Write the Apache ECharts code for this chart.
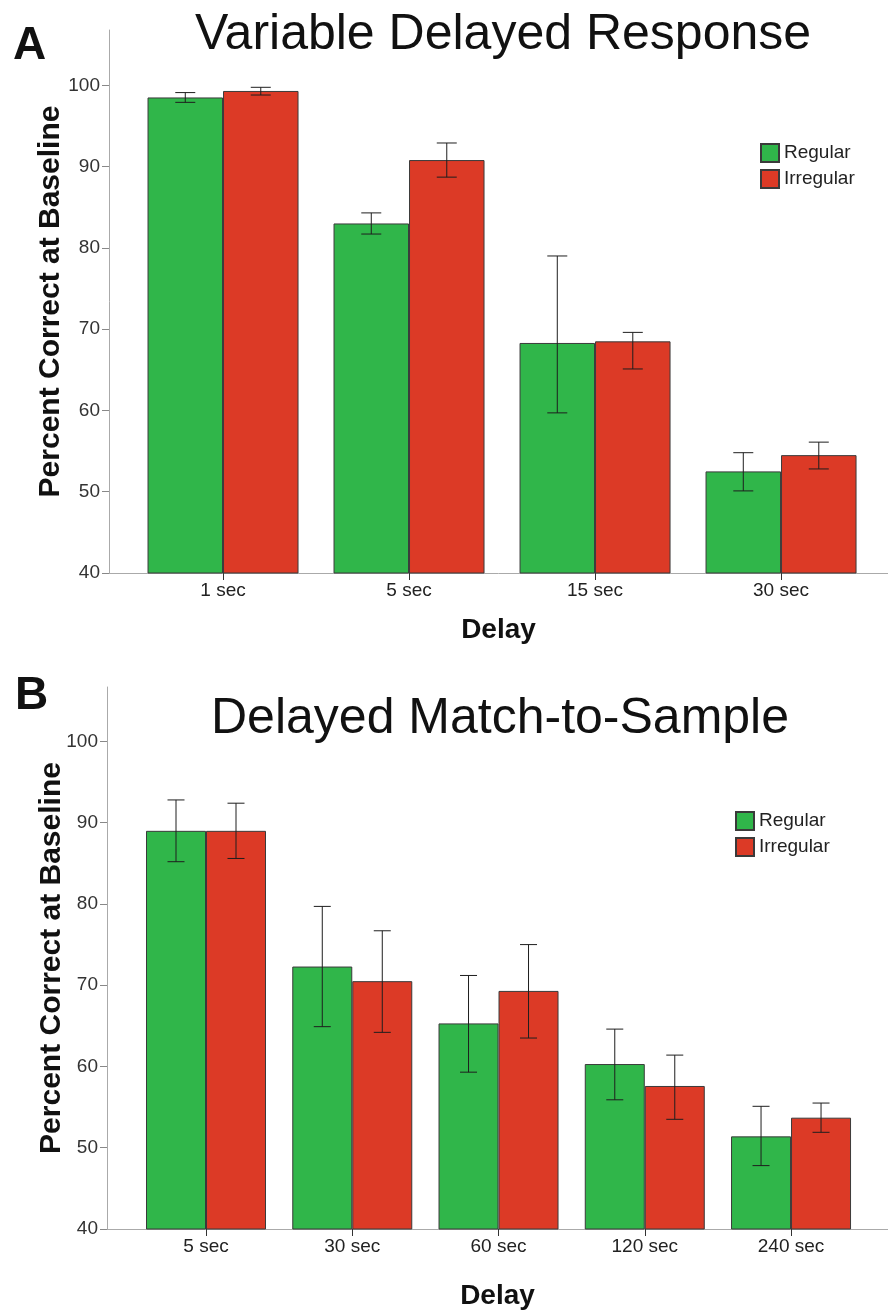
<!DOCTYPE html>
<html>
<head>
<meta charset="utf-8">
<style>
html,body{margin:0;padding:0;background:#fff;}
#chart{width:888px;height:1310px;}
</style>
<script src="https://cdn.jsdelivr.net/npm/echarts@6/dist/echarts.min.js"></script>
</head>
<body>
<div id="chart"></div>
<script>
// ---- Data ----
var categoriesA = ['1 sec', '5 sec', '15 sec', '30 sec'];
var regularA = [98.5, 83.0, 68.3, 52.5];
var irregularA = [99.3, 90.8, 68.5, 54.5];
var regularA_lo = [97.9, 81.7, 59.7, 50.1];
var regularA_hi = [99.1, 84.3, 79.0, 54.8];
var irregularA_lo = [98.8, 88.7, 65.1, 52.8];
var irregularA_hi = [99.75, 92.9, 69.6, 56.1];

var categoriesB = ['5 sec', '30 sec', '60 sec', '120 sec', '240 sec'];
var regularB = [89.0, 72.3, 65.3, 60.3, 51.4];
var irregularB = [89.0, 70.5, 69.3, 57.6, 53.7];
var regularB_lo = [85.2, 64.9, 59.3, 55.9, 47.8];
var regularB_hi = [92.8, 79.7, 71.2, 64.6, 55.1];
var irregularB_lo = [85.6, 64.2, 63.5, 53.5, 51.9];
var irregularB_hi = [92.4, 76.7, 75.0, 61.4, 55.5];

var yTicks = [40, 50, 60, 70, 80, 90, 100];

// ---- Styles ----
var GREEN = '#30b64a';
var RED = '#dc3a26';
var FONT = '"Liberation Sans", Arial, sans-serif';

function positions(cats) { return cats.map(function (c, i) { return i + 1; }); }
function pairs(cats, vals) { return vals.map(function (v, i) { return [i + 1, v]; }); }
function triples(cats, lo, hi) { return lo.map(function (v, i) { return [i + 1, v, hi[i]]; }); }

function errSeries(name, idx, cats, lo, hi, off, cap) {
  return {
    type: 'custom',
    name: name,
    xAxisIndex: idx, yAxisIndex: idx,
    z: 5,
    silent: true,
    encode: { x: 0, y: [1, 2] },
    data: triples(cats, lo, hi),
    renderItem: function (params, api) {
      var x = api.value(0), l = api.value(1), h = api.value(2);
      var pt = api.coord([x, h]), pb = api.coord([x, l]);
      var cx = pt[0] + off;
      var st = { stroke: '#1e1e1e', lineWidth: 1 };
      return {
        type: 'group',
        children: [
          { type: 'line', shape: { x1: cx, y1: pt[1], x2: cx, y2: pb[1] }, style: st },
          { type: 'line', shape: { x1: cx - cap, y1: pt[1], x2: cx + cap, y2: pt[1] }, style: st },
          { type: 'line', shape: { x1: cx - cap, y1: pb[1], x2: cx + cap, y2: pb[1] }, style: st }
        ]
      };
    }
  };
}

function xAxisCfg(idx, cats, min, max, nameGap) {
  return {
    type: 'value', gridIndex: idx, min: min, max: max,
    name: 'Delay', nameLocation: 'middle', nameGap: nameGap, nameMoveOverlap: false,
    nameTextStyle: { fontFamily: FONT, fontWeight: 'bold', fontSize: 28, color: '#111' },
    axisLine: { show: true, lineStyle: { color: '#aaaaaa', width: 1 } },
    axisTick: { show: true, length: 7, customValues: positions(cats), lineStyle: { color: '#333', width: 1 } },
    axisLabel: {
      customValues: positions(cats), margin: 8,
      fontFamily: FONT, fontSize: 19, color: '#222',
      formatter: function (v) { return cats[Math.round(v) - 1] || ''; }
    },
    splitLine: { show: false }
  };
}

function yAxisCfg(idx, max, nameGap) {
  return {
    type: 'value', gridIndex: idx, min: 40, max: max,
    name: 'Percent Correct at Baseline', nameLocation: 'middle', nameGap: nameGap, nameMoveOverlap: false,
    nameTextStyle: { fontFamily: FONT, fontWeight: 'bold', fontSize: 30, color: '#111' },
    axisLine: { show: true, lineStyle: { color: '#aaaaaa', width: 1 } },
    axisTick: { show: true, length: 7, customValues: yTicks, lineStyle: { color: '#888', width: 1 } },
    axisLabel: { customValues: yTicks, margin: 9, fontFamily: FONT, fontSize: 19, color: '#333' },
    splitLine: { show: false }
  };
}

function barSeries(name, idx, cats, vals, color, width) {
  return {
    type: 'bar', name: name,
    xAxisIndex: idx, yAxisIndex: idx,
    barWidth: width, barGap: '0%',
    itemStyle: { color: color, borderColor: '#3a3a3a', borderWidth: 1 },
    data: pairs(cats, vals)
  };
}

var bwA = 75.5, bwB = 60;

var option = {
  animation: false,
  backgroundColor: '#ffffff',
  title: [
    { text: 'Variable Delayed Response', left: 503, top: 10, padding: 0, textAlign: 'center',
      textStyle: { fontFamily: FONT, fontWeight: 'normal', fontSize: 50, color: '#111' } },
    { text: 'Delayed Match-to-Sample', left: 500, top: 694, padding: 0, textAlign: 'center',
      textStyle: { fontFamily: FONT, fontWeight: 'normal', fontSize: 50, color: '#111' } },
    { text: 'A', left: 13, top: 23, padding: 0,
      textStyle: { fontFamily: FONT, fontWeight: 'bold', fontSize: 46, color: '#111' } },
    { text: 'B', left: 15, top: 673, padding: 0,
      textStyle: { fontFamily: FONT, fontWeight: 'bold', fontSize: 46, color: '#111' } }
  ],
  legend: [
    { orient: 'vertical', left: 760, top: 143, padding: 0, icon: 'rect', itemWidth: 18, itemHeight: 18, itemGap: 6,
      data: ['Regular', 'Irregular'], textStyle: { fontFamily: FONT, fontSize: 19, color: '#222' } },
    { orient: 'vertical', left: 735, top: 811, padding: 0, icon: 'rect', itemWidth: 18, itemHeight: 18, itemGap: 6,
      data: ['Regular', 'Irregular'], textStyle: { fontFamily: FONT, fontSize: 19, color: '#222' } }
  ],
  grid: [
    { left: 109, top: 30, width: 779, height: 543, outerBoundsMode: 'none', containLabel: false },
    { left: 107, top: 687, width: 781, height: 542, outerBoundsMode: 'none', containLabel: false }
  ],
  xAxis: [
    xAxisCfg(0, categoriesA, 0.387, 4.575, 43),
    xAxisCfg(1, categoriesB, 0.323, 5.663, 53)
  ],
  yAxis: [
    yAxisCfg(0, 106.8, 43),
    yAxisCfg(1, 106.7, 40)
  ],
  series: [
    barSeries('Regular', 0, categoriesA, regularA, GREEN, bwA),
    barSeries('Irregular', 0, categoriesA, irregularA, RED, bwA),
    errSeries('errRegA', 0, categoriesA, regularA_lo, regularA_hi, -bwA / 2, 10),
    errSeries('errIrrA', 0, categoriesA, irregularA_lo, irregularA_hi, bwA / 2, 10),
    barSeries('Regular', 1, categoriesB, regularB, GREEN, bwB),
    barSeries('Irregular', 1, categoriesB, irregularB, RED, bwB),
    errSeries('errRegB', 1, categoriesB, regularB_lo, regularB_hi, -bwB / 2, 8.5),
    errSeries('errIrrB', 1, categoriesB, irregularB_lo, irregularB_hi, bwB / 2, 8.5)
  ]
};

var chart = echarts.init(document.getElementById('chart'), null, { renderer: 'canvas' });
chart.setOption(option);
</script>
</body>
</html>
